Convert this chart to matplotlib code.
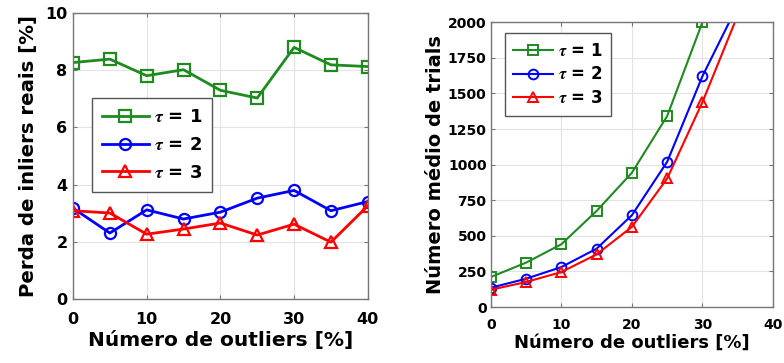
import numpy as np
import matplotlib
matplotlib.use("Agg")
import matplotlib.pyplot as plt

# data
outliers = [0, 5, 10, 15, 20, 25, 30, 35, 40]
loss_t1 = [8.27, 8.39, 7.81, 8.02, 7.30, 7.03, 8.80, 8.19, 8.13]
loss_t2 = [3.18, 2.31, 3.12, 2.80, 3.04, 3.53, 3.80, 3.09, 3.41]
loss_t3 = [3.09, 3.01, 2.27, 2.45, 2.66, 2.24, 2.62, 1.99, 3.26]

trial_x = [0, 5, 10, 15, 20, 25, 30, 35]
trials_t1 = [211, 312, 441, 675, 943, 1341, 2000, 2900]
trials_t2 = [136, 199, 281, 410, 645, 1020, 1621, 2120]
trials_t3 = [122, 176, 246, 370, 563, 903, 1439, 2049]

labels = [r"$\tau$ = 1", r"$\tau$ = 2", r"$\tau$ = 3"]
colors = ["#1f8a1f", "#0000ff", "#ff0000"]
markers = ["s", "o", "^"]

plt.rcParams["font.family"] = ["DejaVu Sans"]
plt.rcParams["font.weight"] = "bold"
plt.rcParams["mathtext.fontset"] = "stix"


def style_axes(ax, tick_size, xpad, ypad):
    ax.grid(True, color="#e3e3e3", linewidth=0.8)
    ax.set_axisbelow(True)
    for s in ax.spines.values():
        s.set_color("#777777")
        s.set_linewidth(1.0)
    ax.tick_params(direction="in", length=3, color="#777777",
                   labelsize=tick_size, top=True, right=True)
    ax.tick_params(axis="x", pad=xpad)
    ax.tick_params(axis="y", pad=ypad)
    for lab in ax.get_xticklabels() + ax.get_yticklabels():
        lab.set_fontweight("bold")


fig = plt.figure(figsize=(7.84, 3.63), dpi=100)

#################################################
# LEFT: inlier loss
#################################################

ax1 = fig.add_axes([0.0931, 0.176, 0.376, 0.788])

for ys, lab, c, m in zip([loss_t1, loss_t2, loss_t3], labels, colors, markers):
    ax1.plot(outliers, ys, color=c, marker=m, markersize=8,
             markerfacecolor="none", markeredgewidth=1.6,
             linewidth=2.0, label=lab)

ax1.set_xlim(0, 40)
ax1.set_ylim(0, 10)
ax1.set_xticks([0, 10, 20, 30, 40])
ax1.set_yticks([0, 2, 4, 6, 8, 10])
style_axes(ax1, 11.5, 9, 4)
ax1.set_xlabel("Número de outliers [%]", fontsize=14.5, fontweight="bold",
               labelpad=3)
ax1.set_ylabel("Perda de inliers reais [%]", fontsize=14.2, fontweight="bold",
               labelpad=5)

leg1 = ax1.legend(loc="upper left", bbox_to_anchor=(0.064, 0.703),
                  borderaxespad=0, fontsize=13, handlelength=2.6,
                  fancybox=False, edgecolor="#555555", framealpha=1,
                  borderpad=0.55, labelspacing=0.55, handletextpad=0.3)
leg1.get_frame().set_linewidth(1.0)
for t in leg1.get_texts():
    t.set_fontweight("bold")

#################################################
# RIGHT: mean number of trials
#################################################

ax2 = fig.add_axes([0.626, 0.154, 0.360, 0.785])

for ys, lab, c, m in zip([trials_t1, trials_t2, trials_t3], labels, colors,
                         markers):
    ax2.plot(trial_x, ys, color=c, marker=m, markersize=7,
             markerfacecolor="none", markeredgewidth=1.4,
             linewidth=1.5, label=lab)

ax2.set_xlim(0, 40)
ax2.set_ylim(0, 2000)
ax2.set_xticks([0, 10, 20, 30, 40])
ax2.set_yticks(np.arange(0, 2001, 250))
style_axes(ax2, 10, 8, 3)
ax2.set_xlabel("Número de outliers [%]", fontsize=13, fontweight="bold",
               labelpad=1)
ax2.set_ylabel("Número médio de trials", fontsize=14, fontweight="bold",
               labelpad=2)

leg2 = ax2.legend(loc="upper left", bbox_to_anchor=(0.05, 0.961),
                  borderaxespad=0, fontsize=12, handlelength=2.4,
                  fancybox=False, edgecolor="#555555", framealpha=1,
                  borderpad=0.5, labelspacing=0.35, handletextpad=0.3)
leg2.get_frame().set_linewidth(1.0)
for t in leg2.get_texts():
    t.set_fontweight("bold")

fig.savefig("out.png", dpi=100)
